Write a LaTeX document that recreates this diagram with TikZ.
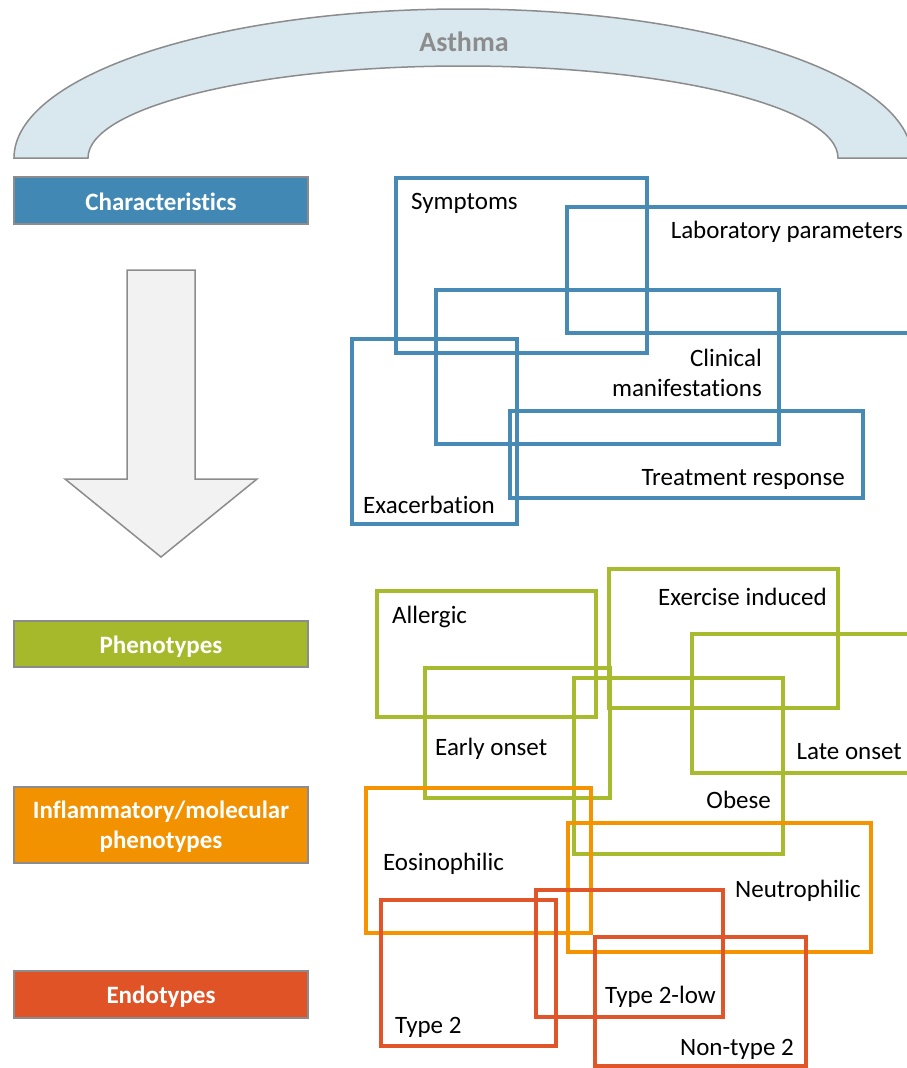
\documentclass[tikz,border=0pt]{standalone}
\usepackage{fontspec}
\setmainfont{Carlito}[Ligatures={NoCommon,NoRequired,NoContextual}]
\definecolor{cblue}{HTML}{468AB5}
\definecolor{cgreen}{HTML}{A8BB2E}
\definecolor{corange}{HTML}{F59300}
\definecolor{cred}{HTML}{E0562A}
\definecolor{fblue}{HTML}{4189B4}
\definecolor{fgreen}{HTML}{A6B92B}
\definecolor{forange}{HTML}{F39200}
\definecolor{fred}{HTML}{DF5327}
\definecolor{edgegray}{HTML}{8C8C8C}
\definecolor{arcfill}{HTML}{D9E7EF}
\definecolor{arrowfill}{HTML}{F2F2F2}
\tikzset{
  setbox/.style={draw=#1, line width=4pt, fill=none, rectangle, inner sep=0pt, outer sep=0pt, anchor=north west},
  lvl/.style={draw=edgegray, line width=1.5pt, fill=#1, rectangle, minimum width=294, inner sep=0pt, outer sep=0pt,
    text=white, font=\fontsize{25}{30}\selectfont\bfseries, align=center},
  lvltext/.style={inner sep=0pt, text=white, font=\fontsize{25}{30}\selectfont\bfseries, align=center},
  lab/.style={inner sep=0pt, font=\fontsize{25}{30}\selectfont, text=black},
}
\begin{document}
\begin{tikzpicture}[x=1pt,y=-1pt]
\useasboundingbox (0,0) rectangle (907,1068);
\clip (0,0) rectangle (907,1068);
% arch
\draw[draw=edgegray, line width=1.5pt, fill=arcfill]
  (14,158) arc[start angle=180, end angle=360, x radius=449, y radius=149]
  -- (838,158) arc[start angle=360, end angle=180, x radius=375, y radius=92] -- cycle;
\node[text=edgegray, font=\fontsize{28}{32}\selectfont\bfseries, inner sep=0pt] (asthma) at (464,42) {Asthma};
% big arrow
\draw[draw=edgegray, line width=1.5pt, fill=arrowfill]
  (127,270) -- (195,270) -- (195,479) -- (257,479) -- (161,557) -- (65,479) -- (127,479) -- cycle;
% level boxes
\node[lvl=fblue, minimum height=47] (char) at (161,200.5) {};
\node[lvl=fgreen, minimum height=46] (phen) at (161,644) {};
\node[lvl=forange, minimum height=76] (infl) at (161,825) {};
\node[lvl=fred, minimum height=47] (endo) at (161,994.5) {};
\node[lvltext] (charT) at (161,202) {Characteristics};
\node[lvltext] (phenT) at (161,647) {Phenotypes};
\node[lvltext] (inflT) at (161,827) {Inflammatory/molecular\\phenotypes};
\node[lvltext] (endoT) at (161,997) {Endotypes};
% characteristics
\node[setbox=cblue, minimum width=251, minimum height=175] (sym) at (396,178) {};
\node[setbox=cblue, minimum width=345, minimum height=126] (labp) at (567,207) {};
\node[setbox=cblue, minimum width=343, minimum height=154] (cli) at (436,290) {};
\node[setbox=cblue, minimum width=165, minimum height=185] (exa) at (352,339) {};
\node[setbox=cblue, minimum width=353, minimum height=87] (tre) at (510,411) {};
\node[lab, anchor=west] (symL) at (411,203) {Symptoms};
\node[lab, anchor=east] (labL) at (903,232) {Laboratory parameters};
\node[lab, anchor=east, align=right] (cliL) at (762,373) {Clinical\\manifestations};
\node[lab, anchor=east] (treL) at (845,479) {Treatment response};
\node[lab, anchor=west] (exaL) at (363,505) {Exacerbation};
% phenotypes
\node[setbox=cgreen, minimum width=219, minimum height=126] (all) at (377,591) {};
\node[setbox=cgreen, minimum width=229, minimum height=139] (exe) at (609,569) {};
\node[setbox=cgreen, minimum width=185, minimum height=130] (ear) at (425,668) {};
\node[setbox=cgreen, minimum width=209, minimum height=176] (obe) at (574,678) {};
\node[setbox=cgreen, minimum width=225, minimum height=139] (lat) at (692,634) {};
\node[lab, anchor=west] (allL) at (392,617) {Allergic};
\node[lab, anchor=east] (exeL) at (827,597) {Exercise induced};
\node[lab, anchor=west] (earL) at (435,749) {Early onset};
\node[lab, anchor=east] (latL) at (902,752) {Late onset};
\node[lab, anchor=east] (obeL) at (771,800) {Obese};
% inflammatory
\node[setbox=corange, minimum width=225, minimum height=145] (eos) at (366,788) {};
\node[setbox=corange, minimum width=303, minimum height=129] (neu) at (568,823) {};
\node[lab, anchor=west] (eosL) at (383,864) {Eosinophilic};
\node[lab, anchor=east] (neuL) at (861,891) {Neutrophilic};
% endotypes
\node[setbox=cred, minimum width=175, minimum height=146] (t2) at (381,900) {};
\node[setbox=cred, minimum width=187, minimum height=127] (t2l) at (536,890) {};
\node[setbox=cred, minimum width=211, minimum height=129] (nt2) at (595,937) {};
\node[lab, anchor=west] (t2L) at (395,1027) {Type 2};
\node[lab, anchor=west] (t2lL) at (605,997) {Type 2-low};
\node[lab, anchor=east] (nt2L) at (794,1049) {Non-type 2};
\end{tikzpicture}
\end{document}
